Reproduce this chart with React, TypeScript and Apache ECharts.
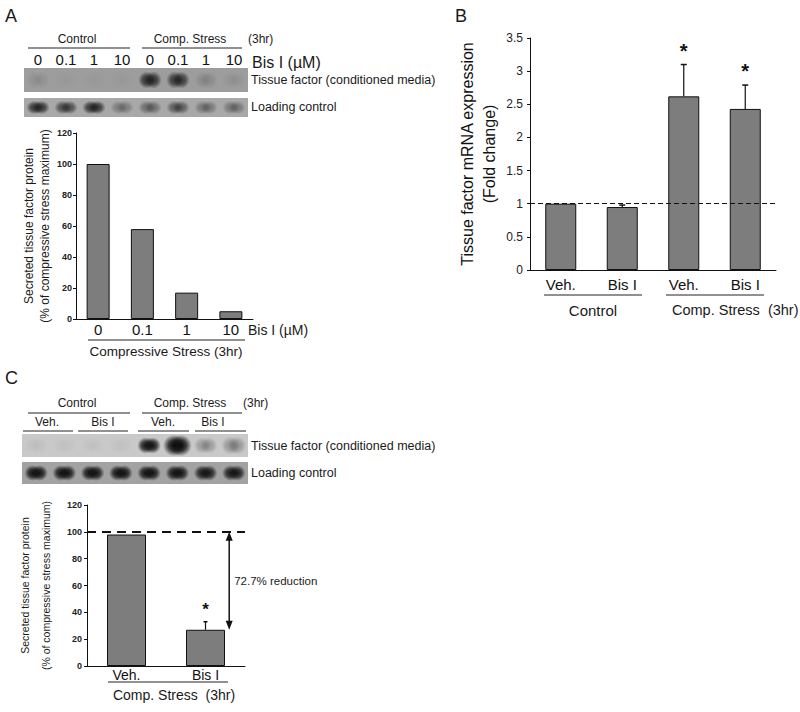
import React, { useEffect, useRef } from 'react';
import * as echarts from 'echarts';

const FONT = "'Liberation Sans', Arial, Helvetica, sans-serif";
const NARROW = "'Liberation Sans Narrow', 'Liberation Sans', Arial, sans-serif";

// ---------- Panel A ----------
const doseLabels = ['0', '0.1', '1', '10'];
const doseValues = [100, 58, 17, 5];
const laneLabelsA = ['0', '0.1', '1', '10', '0', '0.1', '1', '10'];
const blotA_TF = [0.08, 0.02, 0.02, 0.02, 0.75, 0.7, 0.12, 0.06];
const blotA_LC = [0.75, 0.6, 0.75, 0.28, 0.38, 0.5, 0.32, 0.32];

// ---------- Panel B ----------
const mrnaCats = ['Veh.', 'Bis I', 'Veh.', 'Bis I'];
const mrnaValues = [1, 0.95, 2.62, 2.43];
const mrnaErrors = [0, 0.03, 0.48, 0.36];
const mrnaSig = [0, 0, 1, 1];

// ---------- Panel C ----------
const cCats = ['Veh.', 'Bis I'];
const cValues = [98, 27];
const cErrors = [0, 6];
const cSig = [0, 1];
const cReference = 100;
const cReductionLabel = '72.7% reduction';
const laneC = ['1', '2', '3', '4', '5', '6', '7', '8'];
const blotC_TF = [0.04, 0.03, 0.03, 0.03, 0.95, 1.0, 0.25, 0.28];
const blotC_TF_size = [1, 1, 1, 1, 1.0, 1.3, 1, 1.1];
const blotC_LC = [0.95, 0.95, 0.95, 0.95, 0.95, 0.95, 0.9, 0.9];

const grad = (a: number) =>
  new echarts.graphic.RadialGradient(0.5, 0.5, 0.5, [
    { offset: 0, color: `rgba(12,12,12,${a})` },
    { offset: 0.5, color: `rgba(12,12,12,${a * 0.75})` },
    { offset: 1, color: 'rgba(12,12,12,0)' },
  ]);

const bandItem = (params: any, api: any) => {
  const lane = api.value(0);
  const a = api.value(1);
  const s = api.value(2) || 1;
  if (a <= 0) return null;
  const c = api.coord([lane, 0.5]);
  const w = api.size([1, 0])[0];
  const h = api.size([0, 1])[1];
  const ry = h * 0.36 * s;
  return {
    type: 'group',
    children: [
      { type: 'ellipse', shape: { cx: c[0] - w * 0.12, cy: c[1], rx: w * 0.3 * s, ry }, style: { fill: grad(a) } },
      { type: 'ellipse', shape: { cx: c[0] + w * 0.12, cy: c[1], rx: w * 0.3 * s, ry }, style: { fill: grad(a) } },
    ],
  };
};

const errItem = (capW: number, starSize: number) => (params: any, api: any) => {
  const i = api.value(0);
  const v = api.value(1);
  const e = api.value(2);
  const sig = api.value(3);
  const base = api.coord([i, v]);
  const top = api.coord([i, v + e]);
  const children: any[] = [];
  if (e > 0) {
    children.push({ type: 'line', shape: { x1: base[0], y1: base[1], x2: top[0], y2: top[1] }, style: { stroke: '#111', lineWidth: 1.2 } });
    children.push({ type: 'line', shape: { x1: top[0] - capW / 2, y1: top[1], x2: top[0] + capW / 2, y2: top[1] }, style: { stroke: '#111', lineWidth: 1.5 } });
  }
  if (sig) {
    children.push({
      type: 'text',
      style: { text: '*', x: top[0], y: top[1] - 4, align: 'center', verticalAlign: 'bottom', font: `bold ${starSize}px ${FONT}`, fill: '#111' },
    });
  }
  return { type: 'group', children };
};

const arrowItem = (params: any, api: any) => {
  const i = api.value(0);
  const y1v = api.value(1);
  const y2v = api.value(2);
  const w = api.size([1, 0])[0];
  const p1 = api.coord([i, y1v]);
  const p2 = api.coord([i, y2v]);
  const x = p1[0] + w * 0.3;
  const ah = 9, aw = 3.5;
  return {
    type: 'group',
    children: [
      { type: 'line', shape: { x1: x, y1: p1[1] + ah - 1, x2: x, y2: p2[1] - ah + 1 }, style: { stroke: '#111', lineWidth: 1.5 } },
      { type: 'polygon', shape: { points: [[x, p1[1]], [x - aw, p1[1] + ah], [x + aw, p1[1] + ah]] }, style: { fill: '#111' } },
      { type: 'polygon', shape: { points: [[x, p2[1]], [x - aw, p2[1] - ah], [x + aw, p2[1] - ah]] }, style: { fill: '#111' } },
      {
        type: 'text',
        style: { text: cReductionLabel, x: x + 5, y: (p1[1] + p2[1]) / 2, align: 'left', verticalAlign: 'middle', font: `11.5px ${FONT}`, fill: '#222' },
      },
    ],
  };
};

const T = (x: number, y: number, text: string, size: number, align = 'left', extra: any = {}) => ({
  type: 'text',
  style: { text, x, y, align, verticalAlign: 'middle', font: `${extra.weight || 'normal'} ${size}px ${FONT}`, fill: extra.fill || '#1a1a1a' },
});
const L = (x1: number, y1: number, x2: number, y2: number) => ({
  type: 'line',
  shape: { x1, y1, x2, y2 },
  style: { stroke: '#222', lineWidth: 1 },
});

export default function App() {
  const ref = useRef<HTMLDivElement>(null);
  useEffect(() => {
    if (!ref.current) return;
    const chart = echarts.init(ref.current, null, { renderer: 'svg' });
    const blackAxis = { lineStyle: { color: '#111', width: 1 } };
    const hiddenX = (data: string[]) => ({ type: 'category', data, show: false });
    const hiddenY = () => ({ type: 'value', min: 0, max: 1, show: false });
    const yLabel = (size: number, weight: string, margin: number) => ({
      fontSize: size, fontWeight: weight, color: '#222', fontFamily: NARROW, margin,
    });

    const option: any = {
      animation: false,
      backgroundColor: '#ffffff',
      textStyle: { fontFamily: FONT },
      grid: [
        { left: 76, top: 133, width: 177, height: 186 },
        { left: 530, top: 38, width: 246, height: 232 },
        { left: 87, top: 505, width: 158, height: 161 },
        { left: 24, top: 68, width: 224, height: 24, show: true, backgroundColor: '#9d9d9d', borderWidth: 0 },
        { left: 24, top: 98, width: 224, height: 19, show: true, backgroundColor: '#a8a8a8', borderWidth: 0 },
        { left: 22, top: 434, width: 226, height: 23, show: true, backgroundColor: '#c9c9c9', borderWidth: 0 },
        { left: 22, top: 462, width: 226, height: 22, show: true, backgroundColor: '#a2a2a2', borderWidth: 0 },
      ],
      xAxis: [
        {
          type: 'category', gridIndex: 0, data: doseLabels, axisLine: blackAxis, axisTick: { show: false },
          axisLabel: { fontSize: 15, color: '#111', margin: 3 },
        },
        {
          type: 'category', gridIndex: 1, data: mrnaCats, axisLine: blackAxis, axisTick: { show: false },
          axisLabel: { fontSize: 15, color: '#111', margin: 7 },
        },
        {
          type: 'category', gridIndex: 2, data: cCats, axisLine: blackAxis, axisTick: { show: false },
          axisLabel: { fontSize: 14, color: '#111', margin: 2 },
        },
        {
          type: 'category', gridIndex: 3, data: laneLabelsA, position: 'top', axisLine: { show: false }, axisTick: { show: false },
          axisLabel: { fontSize: 15, color: '#111', margin: 1, interval: 0 },
        },
        { ...hiddenX(laneLabelsA), gridIndex: 4 },
        { ...hiddenX(laneC), gridIndex: 5 },
        { ...hiddenX(laneC), gridIndex: 6 },
      ],
      yAxis: [
        {
          type: 'value', gridIndex: 0, min: 0, max: 120, interval: 20, axisLine: { show: true, ...blackAxis },
          axisTick: { show: true, length: 3, lineStyle: { color: '#111' } }, splitLine: { show: false },
          axisLabel: yLabel(9, 'bold', 4),
          name: 'Secreted tissue factor protein\n(% of compressive stress maximum)', nameLocation: 'middle', nameRotate: 90, nameGap: 22,
          nameTextStyle: { fontSize: 12, lineHeight: 16, color: '#1a1a1a', fontFamily: NARROW },
        },
        {
          type: 'value', gridIndex: 1, min: 0, max: 3.5, interval: 0.5, axisLine: { show: true, ...blackAxis },
          axisTick: { show: true, length: 3, lineStyle: { color: '#111' } }, splitLine: { show: false },
          axisLabel: yLabel(12, 'normal', 7),
          name: 'Tissue factor mRNA expression\n(Fold change)', nameLocation: 'middle', nameRotate: 90, nameGap: 30,
          nameTextStyle: { fontSize: 16, lineHeight: 22, color: '#111' },
        },
        {
          type: 'value', gridIndex: 2, min: 0, max: 120, interval: 20, axisLine: { show: true, ...blackAxis },
          axisTick: { show: true, length: 3, lineStyle: { color: '#111' } }, splitLine: { show: false },
          axisLabel: yLabel(9, 'bold', 5),
          name: 'Secreted tissue factor protein\n(% of compressive stress maximum)', nameLocation: 'middle', nameRotate: 90, nameGap: 31,
          nameTextStyle: { fontSize: 10.5, lineHeight: 21, color: '#1a1a1a', fontFamily: NARROW },
        },
        { ...hiddenY(), gridIndex: 3 },
        { ...hiddenY(), gridIndex: 4 },
        { ...hiddenY(), gridIndex: 5 },
        { ...hiddenY(), gridIndex: 6 },
      ],
      series: [
        {
          type: 'bar', xAxisIndex: 0, yAxisIndex: 0, data: doseValues, barWidth: 23,
          itemStyle: { color: '#7d7d7d', borderColor: '#111', borderWidth: 1 },
        },
        {
          type: 'bar', xAxisIndex: 1, yAxisIndex: 1, data: mrnaValues, barWidth: 31,
          itemStyle: { color: '#7d7d7d', borderColor: '#111', borderWidth: 1 },
          markLine: {
            silent: true, symbol: ['none', 'none'], label: { show: false },
            lineStyle: { type: [5, 3], color: '#111', width: 1 },
            data: [{ yAxis: 1 }],
          },
        },
        {
          type: 'custom', xAxisIndex: 1, yAxisIndex: 1, clip: false,
          data: mrnaValues.map((v, i) => [i, v, mrnaErrors[i], mrnaSig[i]]),
          renderItem: errItem(6, 20), z: 5,
        },
        {
          type: 'bar', xAxisIndex: 2, yAxisIndex: 2, data: cValues, barWidth: 39,
          itemStyle: { color: '#7d7d7d', borderColor: '#111', borderWidth: 1 },
          markLine: {
            silent: true, symbol: ['none', 'none'], label: { show: false },
            lineStyle: { type: [9, 6], color: '#111', width: 2 },
            data: [{ yAxis: cReference }],
          },
        },
        {
          type: 'custom', xAxisIndex: 2, yAxisIndex: 2, clip: false,
          data: cValues.map((v, i) => [i, v, cErrors[i], cSig[i]]),
          renderItem: errItem(4, 17), z: 5,
        },
        {
          type: 'custom', xAxisIndex: 2, yAxisIndex: 2, clip: false,
          data: [[1, cReference, cValues[1]]],
          renderItem: arrowItem, z: 6,
        },
        { type: 'custom', xAxisIndex: 3, yAxisIndex: 3, data: blotA_TF.map((v, i) => [i, v, 1]), renderItem: bandItem },
        { type: 'custom', xAxisIndex: 4, yAxisIndex: 4, data: blotA_LC.map((v, i) => [i, v, 1]), renderItem: bandItem },
        { type: 'custom', xAxisIndex: 5, yAxisIndex: 5, data: blotC_TF.map((v, i) => [i, v, blotC_TF_size[i]]), renderItem: bandItem },
        { type: 'custom', xAxisIndex: 6, yAxisIndex: 6, data: blotC_LC.map((v, i) => [i, v, 1]), renderItem: bandItem },
      ],
      graphic: [
        // Panel A
        T(5, 16, 'A', 18),
        T(77, 39, 'Control', 12, 'center'),
        L(28, 48, 130, 48),
        T(190, 39, 'Comp. Stress', 12, 'center'),
        L(142, 48, 242, 48),
        T(248, 39, '(3hr)', 12),
        T(252, 62, 'Bis I (µM)', 16),
        T(251, 80, 'Tissue factor (conditioned media)', 12.5),
        T(251, 107, 'Loading control', 12.5),
        T(248, 330, 'Bis I (µM)', 14),
        L(88, 340, 245, 340),
        T(166, 351, 'Compressive Stress (3hr)', 13.5, 'center'),
        // Panel B
        T(455, 16, 'B', 18),
        L(544, 295, 642, 295),
        L(666, 295, 764, 295),
        T(593, 310, 'Control', 15, 'center'),
        T(672, 310, 'Comp. Stress  (3hr)', 14.5),
        // Panel C
        T(5, 378, 'C', 18),
        T(77, 403, 'Control', 12, 'center'),
        L(28, 413, 130, 413),
        T(190, 403, 'Comp. Stress', 12, 'center'),
        L(142, 413, 242, 413),
        T(243, 403, '(3hr)', 12),
        T(47, 422, 'Veh.', 12, 'center'),
        T(103, 422, 'Bis I', 12, 'center'),
        T(163, 422, 'Veh.', 12, 'center'),
        T(213, 422, 'Bis I', 12, 'center'),
        L(23, 431, 73, 431),
        L(78, 431, 128, 431),
        L(138, 431, 189, 431),
        L(195, 431, 246, 431),
        T(251, 446, 'Tissue factor (conditioned media)', 12.5),
        T(251, 473, 'Loading control', 12.5),
        L(108, 682, 228, 682),
        T(174, 695, 'Comp. Stress  (3hr)', 14, 'center'),
      ],
    };
    chart.setOption(option);
    return () => chart.dispose();
  }, []);
  return (
    <div
      ref={ref}
      style={{ position: 'fixed', left: 0, top: 0, width: 800, height: 712, background: '#fff' }}
    />
  );
}
